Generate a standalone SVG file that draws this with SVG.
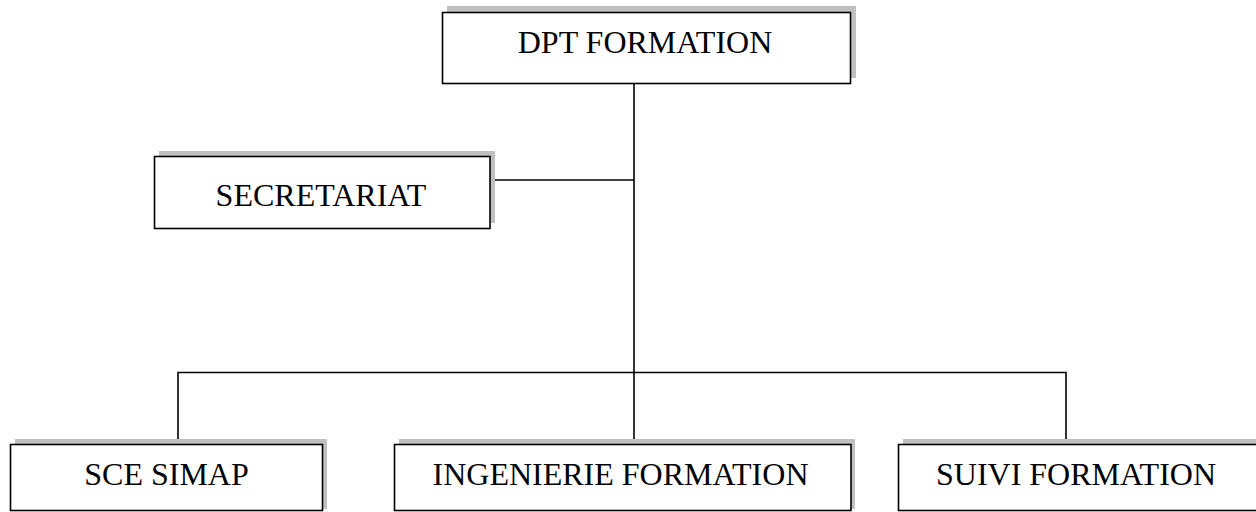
<svg xmlns="http://www.w3.org/2000/svg" width="1256" height="512" viewBox="0 0 1256 512">
<style>
.shadow{fill:#c0c0c0;stroke:none}
.box{fill:#ffffff;stroke:#000000;stroke-width:1.6}
.lbl{font-family:"Liberation Serif","Times New Roman",serif;font-size:32px;fill:#000000;text-anchor:middle}
.conn{stroke:#000000;stroke-width:1.6;fill:none}
</style>
<rect width="1256" height="512" fill="#ffffff"/>
<g id="connectors">
<line class="conn" x1="634" y1="83" x2="634" y2="444"/>
<line class="conn" x1="490" y1="180" x2="634" y2="180"/>
<polyline class="conn" points="178,444 178,372.5 1066,372.5 1066,444"/>
</g>
<g id="dpt-formation">
<rect class="shadow" x="447" y="6" width="409" height="72"/>
<rect class="box" x="442.5" y="12.5" width="408" height="71"/>
<text class="lbl" x="645" y="53">DPT FORMATION</text>
</g>
<g id="secretariat">
<rect class="shadow" x="159" y="151" width="336" height="72"/>
<rect class="box" x="154.5" y="156.5" width="335.5" height="72"/>
<text class="lbl" x="321" y="206">SECRETARIAT</text>
</g>
<g id="sce-simap">
<rect class="shadow" x="15" y="439" width="312" height="70"/>
<rect class="box" x="10.5" y="444.5" width="312" height="66"/>
<text class="lbl" x="166.5" y="485">SCE SIMAP</text>
</g>
<g id="ingenierie-formation">
<rect class="shadow" x="399" y="439" width="456" height="70"/>
<rect class="box" x="394.5" y="444.5" width="456.5" height="66"/>
<text class="lbl" x="620.5" y="485">INGENIERIE FORMATION</text>
</g>
<g id="suivi-formation">
<rect class="shadow" x="903" y="439" width="370" height="70"/>
<rect class="box" x="898.5" y="444.5" width="366" height="66"/>
<text class="lbl" x="1076" y="485">SUIVI FORMATION</text>
</g>
</svg>
